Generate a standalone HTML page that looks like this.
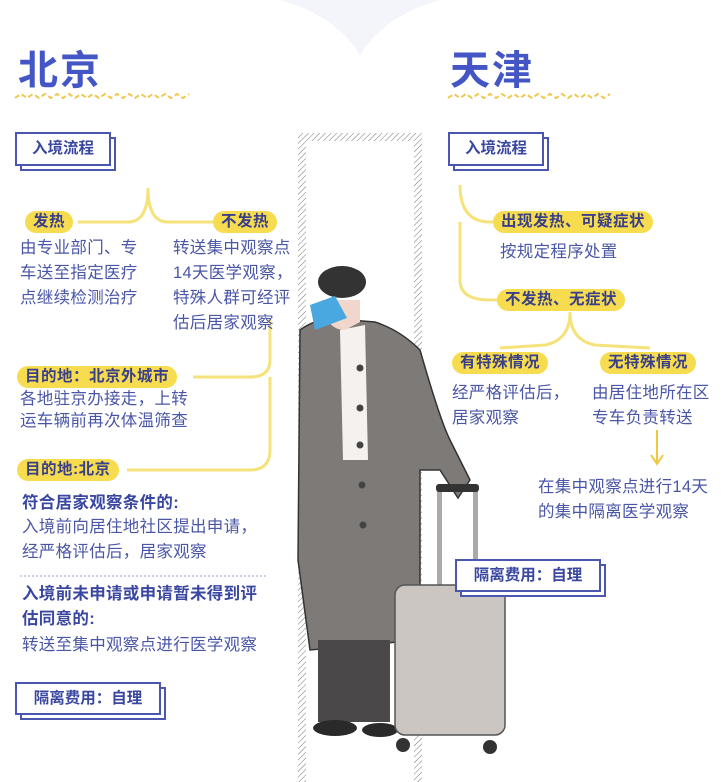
<!DOCTYPE html>
<html><head><meta charset="utf-8">
<style>
body{margin:0;background:#fff;}
#c{position:relative;width:721px;height:782px;overflow:hidden;font-family:"Liberation Sans","Noto Sans CJK SC",sans-serif;color:#4a56a6;}
.t{position:absolute;font-size:16.5px;line-height:25px;white-space:nowrap;letter-spacing:0.3px}
.b{font-weight:bold;color:#3a47a0}
.pill{position:absolute;background:#f6dc4e;border-radius:12px;font-weight:bold;color:#3a3f8a;font-size:15.5px;line-height:22px;height:22px;padding:0 8px;white-space:nowrap;letter-spacing:0.5px}
.box{position:absolute;border:2px solid #4a56b0;background:#fff;font-weight:bold;color:#3a47a0;font-size:15.5px;text-align:center;box-shadow:5px 5px 0 -2px #fff,5px 5px 0 0 #4a56b0;}
.h{position:absolute;font-size:40px;font-weight:bold;color:#4456c6;letter-spacing:2px}
</style></head><body><div id="c">
<svg width="721" height="782" style="position:absolute;left:0;top:0">
<defs><pattern id="hp" width="4" height="4" patternUnits="userSpaceOnUse" patternTransform="rotate(45)"><line x1="0" y1="0" x2="0" y2="4" stroke="#777" stroke-width="1"/></pattern></defs>
<path d="M280 0 Q335 15 360 55 Q385 15 440 0Z" fill="#f4f5fb"/>
<path d="M15 98 l6 -4 l6 4 l6 -4 l6 4 l6 -4 l6 4 l6 -4 l6 4 l6 -4 l6 4 l6 -4 l6 4 l6 -4 l6 4 l6 -4 l6 4 l6 -4 l6 4 l6 -4 l6 4 l6 -4 l6 4 l6 -4 l6 4 l6 -4 l6 4 l6 -4 l6 4 l6 -4" stroke="#f0c850" stroke-width="2" fill="none" stroke-dasharray="5 3"/>
<path d="M448 98 l6 -4 l6 4 l6 -4 l6 4 l6 -4 l6 4 l6 -4 l6 4 l6 -4 l6 4 l6 -4 l6 4 l6 -4 l6 4 l6 -4 l6 4 l6 -4 l6 4 l6 -4 l6 4 l6 -4 l6 4 l6 -4 l6 4 l6 -4 l6 4 l6 -4" stroke="#f0c850" stroke-width="2" fill="none" stroke-dasharray="5 3"/>
<rect x="298" y="133" width="124" height="660" fill="url(#hp)"/>
<rect x="306" y="141" width="108" height="660" fill="#fff"/>
<g stroke="#f6e27a" stroke-width="3" fill="none">
<path d="M148 188 Q148 222 128 222 L78 222"/>
<path d="M148 188 Q148 222 168 222 L213 222"/>
<path d="M270 318 L270 360 Q270 377 250 377 L193 377"/>
<path d="M270 377 L270 450 Q270 470 250 470 L127 470"/>
<path d="M460 185 Q460 222 490 222 L493 222"/>
<path d="M460 222 L460 280 Q460 300 490 300 L497 300"/>
<path d="M570 312 Q570 340 545 345 L500 348"/>
<path d="M570 312 Q570 340 595 345 L650 348"/>
<path d="M657 430 L657 462 M651 455 L657 464 L663 455" stroke="#f0c840" stroke-width="2"/>
</g>
<line x1="20" y1="576" x2="268" y2="576" stroke="#9aa0c8" stroke-dasharray="2 2"/>
<path d="M300 330 Q320 315 350 320 L375 322 Q400 330 420 350 Q440 420 450 440 L470 480 L458 498 L440 470 L420 470 L420 640 L310 650 L298 560 Z" fill="#7e7a77" stroke="#333" stroke-width="1.5"/>
<path d="M340 330 L365 325 L368 460 L343 460 Z" fill="#f5f1ee"/>
<rect x="318" y="640" width="72" height="82" fill="#4a4848"/>
<ellipse cx="335" cy="728" rx="22" ry="8" fill="#2a2a2a"/>
<ellipse cx="380" cy="730" rx="18" ry="7" fill="#2a2a2a"/>
<path d="M322 300 Q325 330 345 330 L360 322 L360 300 Z" fill="#f1d6cc"/>
<ellipse cx="342" cy="282" rx="24" ry="16" fill="#333"/>
<path d="M310 305 L335 296 L347 318 L315 330 Z" fill="#4aa8e0"/>
<circle cx="360" cy="368" r="3.5" fill="#444"/><circle cx="360" cy="408" r="3.5" fill="#444"/><circle cx="360" cy="445" r="3.5" fill="#444"/><circle cx="362" cy="485" r="3.5" fill="#444"/><circle cx="363" cy="525" r="3.5" fill="#444"/>
<rect x="437" y="487" width="5" height="98" fill="#aaa"/><rect x="473" y="487" width="5" height="98" fill="#aaa"/>
<rect x="436" y="484" width="43" height="8" rx="3" fill="#333"/>
<rect x="395" y="585" width="110" height="150" rx="10" fill="#cbc6c2" stroke="#555" stroke-width="1.5"/>
<circle cx="403" cy="745" r="7" fill="#333"/><circle cx="490" cy="747" r="7" fill="#333"/>
</svg>
<div class="h" style="left:18px;top:38px">北京</div>
<div class="h" style="left:450px;top:38px">天津</div>
<div class="box" style="left:15px;top:132px;width:92px;height:30px;line-height:30px">入境流程</div>
<div class="box" style="left:448px;top:132px;width:92px;height:30px;line-height:30px">入境流程</div>
<div class="pill" style="left:25px;top:211px">发热</div>
<div class="pill" style="left:213px;top:211px">不发热</div>
<div class="t" style="left:20px;top:236px">由专业部门、专<br>车送至指定医疗<br>点继续检测治疗</div>
<div class="t" style="left:173px;top:236px">转送集中观察点<br>14天医学观察，<br>特殊人群可经评<br>估后居家观察</div>
<div class="pill" style="left:17px;top:366px">目的地：北京外城市</div>
<div class="t" style="left:20px;top:388px;line-height:22px">各地驻京办接走，上转<br>运车辆前再次体温筛查</div>
<div class="pill" style="left:17px;top:459px">目的地:北京</div>
<div class="t b" style="left:22px;top:491px">符合居家观察条件的:</div>
<div class="t" style="left:22px;top:515px">入境前向居住地社区提出申请，<br>经严格评估后，居家观察</div>
<div class="t b" style="left:22px;top:582px">入境前未申请或申请暂未得到评<br>估同意的:</div>
<div class="t" style="left:22px;top:633px">转送至集中观察点进行医学观察</div>
<div class="box" style="left:15px;top:682px;width:142px;height:29px;line-height:29px">隔离费用：自理</div>
<div class="pill" style="left:493px;top:211px">出现发热、可疑症状</div>
<div class="t" style="left:500px;top:240px">按规定程序处置</div>
<div class="pill" style="left:497px;top:289px">不发热、无症状</div>
<div class="pill" style="left:452px;top:352px">有特殊情况</div>
<div class="pill" style="left:600px;top:352px">无特殊情况</div>
<div class="t" style="left:452px;top:381px">经严格评估后，<br>居家观察</div>
<div class="t" style="left:592px;top:381px">由居住地所在区<br>专车负责转送</div>
<div class="t" style="left:538px;top:475px">在集中观察点进行14天<br>的集中隔离医学观察</div>
<div class="box" style="left:455px;top:559px;width:142px;height:29px;line-height:29px">隔离费用：自理</div>
</div></body></html>
